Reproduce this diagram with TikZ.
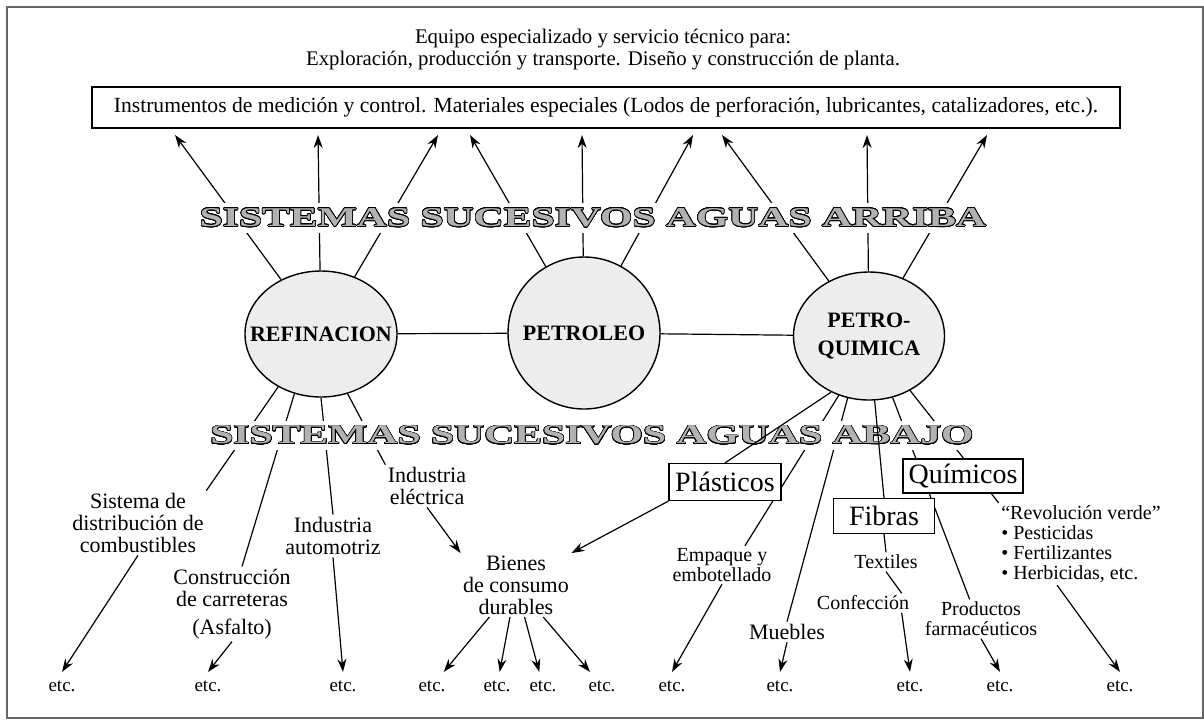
\documentclass[tikz,border=0pt]{standalone}
\usepackage{fontspec}
\setmainfont{Liberation Serif}
\usepackage{contour}
\usetikzlibrary{arrows.meta,shapes.geometric}
\contourlength{0.35pt}
\contournumber{24}
\newcommand{\banner}[1]{{\color{black!30}\contour{black}{\scalebox{1.53}[1]{\fontsize{13.6}{14}\selectfont\bfseries #1}}}}

\begin{document}
\begin{tikzpicture}[x=0.5pt,y=-0.5pt,line width=0.6pt]
\tikzstyle{every node}=[inner sep=1pt, align=center]
\tikzstyle{lbl}=[font=\fontsize{11}{11}\selectfont]
\tikzstyle{small}=[font=\fontsize{10}{10}\selectfont]
\tikzstyle{etcs}=[font=\fontsize{9.5}{10}\selectfont, inner sep=4pt]
\tikzstyle{sector}=[draw, line width=0.7pt, fill=black!7, inner sep=0pt,
                    font=\fontsize{11}{14}\selectfont\bfseries]
\tikzstyle{product}=[draw, fill=white, inner sep=2pt,
                     font=\fontsize{14}{14}\selectfont]
\tikzstyle{band}=[fill=white, inner xsep=1pt, inner ysep=2.5pt]
\tikzstyle{arr}=[-{Stealth[length=6.5pt,width=4.5pt]}]
\useasboundingbox (0,0) rectangle (1204,719);
\draw[black!60, line width=0.8pt] (7,7) rectangle (1203,718);

\node[font=\fontsize{10.4}{11}\selectfont] (head) at (603,50)
  {Equipo especializado y servicio técnico para:\\Exploración, producción y transporte. Diseño y construcción de planta.};
\node[draw, minimum width=514pt, minimum height=20.5pt, font=\fontsize{10.8}{11}\selectfont] (inst) at (606,107.5)
  {Instrumentos de medición y control. Materiales especiales (Lodos de perforación, lubricantes, catalizadores, etc.).};

\node[sector, ellipse, minimum width=76pt, minimum height=63pt] (ref) at (321,334) {\makebox[0pt]{REFINACION}};
\node[sector, circle, minimum size=76pt] (pet) at (584,333) {PETROLEO};
\node[sector, ellipse, minimum width=75.5pt, minimum height=64pt] (pq) at (869,336) {PETRO-\\QUIMICA};

\node[lbl] (sdc) at (138,523) {Sistema de\\distribución de\\combustibles};
\node[lbl] (cons) at (232,604) {Construcción\\de carreteras\\[3pt](Asfalto)};
\node[lbl] (auto) at (333,536) {Industria\\automotriz};
\node[lbl] (ele) at (427,486) {Industria\\eléctrica};
\node[lbl] (bien) at (516,585) {Bienes\\de consumo\\durables};
\node[small] (emp) at (722,565) {Empaque y\\embotellado};
\node[lbl] (mue) at (787,632) {Muebles};
\node[small] (tex) at (886,562) {Textiles};
\node[small] (conf) at (863,603) {Confección};
\node[small] (farm) at (981,619) {Productos\\farmacéuticos};
\node[small, align=left] (rev) at (1081,544) {“Revolución verde”\\• Pesticidas\\• Fertilizantes\\• Herbicidas, etc.};

\foreach \n/\x in {1/62,2/208,3/343,4/432,5/497,6/543,7/602,8/672,9/780,10/910,11/1000,12/1120}
  \node[etcs] (e\n) at (\x,686) {etc.};
\foreach \n/\x in {1/175,2/318,3/438,4/470,5/582,6/693,7/722,8/867,9/987}
  \coordinate (u\n) at (\x,135);

\foreach \i/\j in {ref/1,ref/2,ref/3,pet/4,pet/5,pet/6,pq/7,pq/8,pq/9}{\draw[arr] (\i) -- (u\j);}
\foreach \i/\j in {ref/pet,pet/pq}{\draw (\i) -- (\j);}

\draw (ref.-129) -- (sdc.north east);
\draw (ref.-114) -- ([xshift=5pt]cons.north);
\draw (ref.-90) -- (auto.north);
\draw (ref.-66) -- (ele.north west);
\draw (pq.-117) -- (emp.40);
\draw (pq.-109) -- (mue.north);
\draw (pq.-69) -- (farm.120);
\draw (pq.-53) -- (rev.north west);

\node[band] (upstream) at (593,218) {\banner{SISTEMAS SUCESIVOS AGUAS ARRIBA}};
\node[band] (downstream) at (592,435.5) {\banner{SISTEMAS SUCESIVOS AGUAS ABAJO}};

\node[product, minimum width=56pt, minimum height=18.5pt] (plas) at (725,482) {Plásticos};
\node[product, minimum width=50.5pt, minimum height=17.5pt] (fib) at (884,516) {Fibras};
\node[product, minimum width=60pt, minimum height=17pt] (quim) at (963,476) {Químicos};

\draw (pq.-124) -- (plas.north);
\draw (pq.-85) -- (fib.north);
\draw (fib.south) -- (tex.north);
\draw (tex.south) -- ([xshift=-5pt]conf.north east);
\draw[arr] ([xshift=-5pt]conf.south east) -- (e10.north);
\draw[arr] (plas.south west) -- (bien.north east);
\draw[arr] (ele.south) -- (bien.north west);
\foreach \i/\j in {sdc/1,cons/2,auto/3,emp/8,mue/9,farm/11}{\draw[arr] (\i.south) -- (e\j.north);}
\draw[arr] ([xshift=-12pt]rev.south) -- (e12.north);
\foreach \j in {4,5,6,7}{\draw[arr] (bien) -- (e\j);}
\end{tikzpicture}
\end{document}
